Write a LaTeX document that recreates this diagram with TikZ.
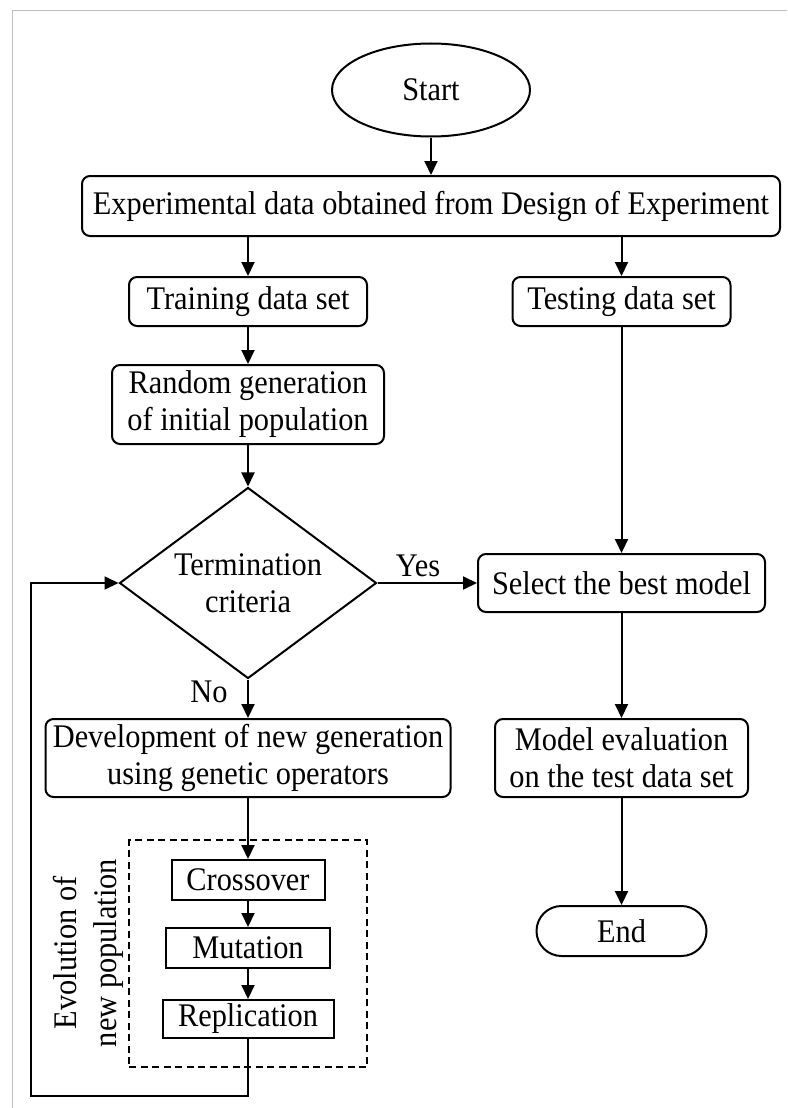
\documentclass[tikz,border=0pt]{standalone}
\usepackage{fontspec}
\setmainfont{Liberation Serif}[FakeStretch=0.92]
\usetikzlibrary{shapes.geometric,arrows.meta}
\begin{document}
\begin{tikzpicture}[x=1pt,y=-1pt,
  every node/.style={font=\fontsize{33}{37}\selectfont, inner sep=0pt, align=center},
  rbox/.style={draw, line width=2pt, rounded corners=8pt},
  sbox/.style={draw, line width=2pt},
  arr/.style={line width=2pt, -{Triangle[length=14pt,width=13pt]}},
  ln/.style={line width=2pt}]
\useasboundingbox (0,0) rectangle (787,1108);
\draw[color=black!25, line width=1pt] (12,1108) -- (12,11) -- (787,11);

\node[draw, line width=2pt, ellipse, minimum width=198pt, minimum height=93pt] (start) at (431,90) {Start};
\node[rbox, minimum width=698pt, minimum height=60pt] (exp) at (431,206) {Experimental data obtained from Design of Experiment};
\node[rbox, minimum width=238pt, minimum height=49pt] (train) at (248,301.5) {Training data set};
\node[rbox, minimum width=218pt, minimum height=49pt] (test) at (621.5,301.5) {Testing data set};
\node[rbox, minimum width=272pt, minimum height=79pt] (rand) at (248,404.5) {Random generation\\of initial population};
\node[draw, line width=2pt, diamond, aspect=1.345, minimum width=257pt, minimum height=191pt] (dia) at (248,583) {Termination\\criteria};
\node[rbox, minimum width=287pt, minimum height=58pt] (sel) at (621.5,583) {Select the best model};
\node[rbox, minimum width=405pt, minimum height=78pt] (dev) at (248,758) {Development of new generation\\using genetic operators};
\node[rbox, minimum width=253pt, minimum height=78pt] (model) at (621.5,758) {Model evaluation\\on the test data set};
\node[rbox, rounded corners=25pt, minimum width=170pt, minimum height=50pt] (end) at (621.5,931) {End};
\node[draw, dash pattern=on 7pt off 4.5pt, line width=1.3pt, minimum width=238pt, minimum height=227pt] (dash) at (248,953.5) {};
\node[sbox, minimum width=153pt, minimum height=40pt] (cross) at (248,880) {Crossover};
\node[sbox, minimum width=164pt, minimum height=40pt] (mut) at (248,948) {Mutation};
\node[sbox, minimum width=171pt, minimum height=38pt] (rep) at (248,1019) {Replication};
\node[rotate=90, font=\fontsize{33}{40}\selectfont] (evo) at (88,953) {Evolution of\\new population};
\node (yes) at (418,566) {Yes};
\node (no) at (209,692) {No};
\coordinate (c1) at (248,1096);
\coordinate (c2) at (31,1096);

\draw[arr] (start) -- (exp);
\draw[arr] (train.north |- exp.south) -- (train.north);
\draw[arr] (test.north |- exp.south) -- (test.north);
\draw[arr] (train) -- (rand);
\draw[arr] (rand) -- (dia);
\draw[arr] (dia.east) -- (sel.west);
\draw[arr] (test) -- (sel);
\draw[arr] (sel) -- (model);
\draw[arr] (model) -- (end);
\draw[arr] (dia.south) -- (dev.north);
\draw[arr] (dev) -- (cross);
\draw[arr] (cross) -- (mut);
\draw[arr] (mut) -- (rep);
\draw[arr] (rep.south) -- (c1) -- (c2) |- (dia.west);
\end{tikzpicture}
\end{document}
